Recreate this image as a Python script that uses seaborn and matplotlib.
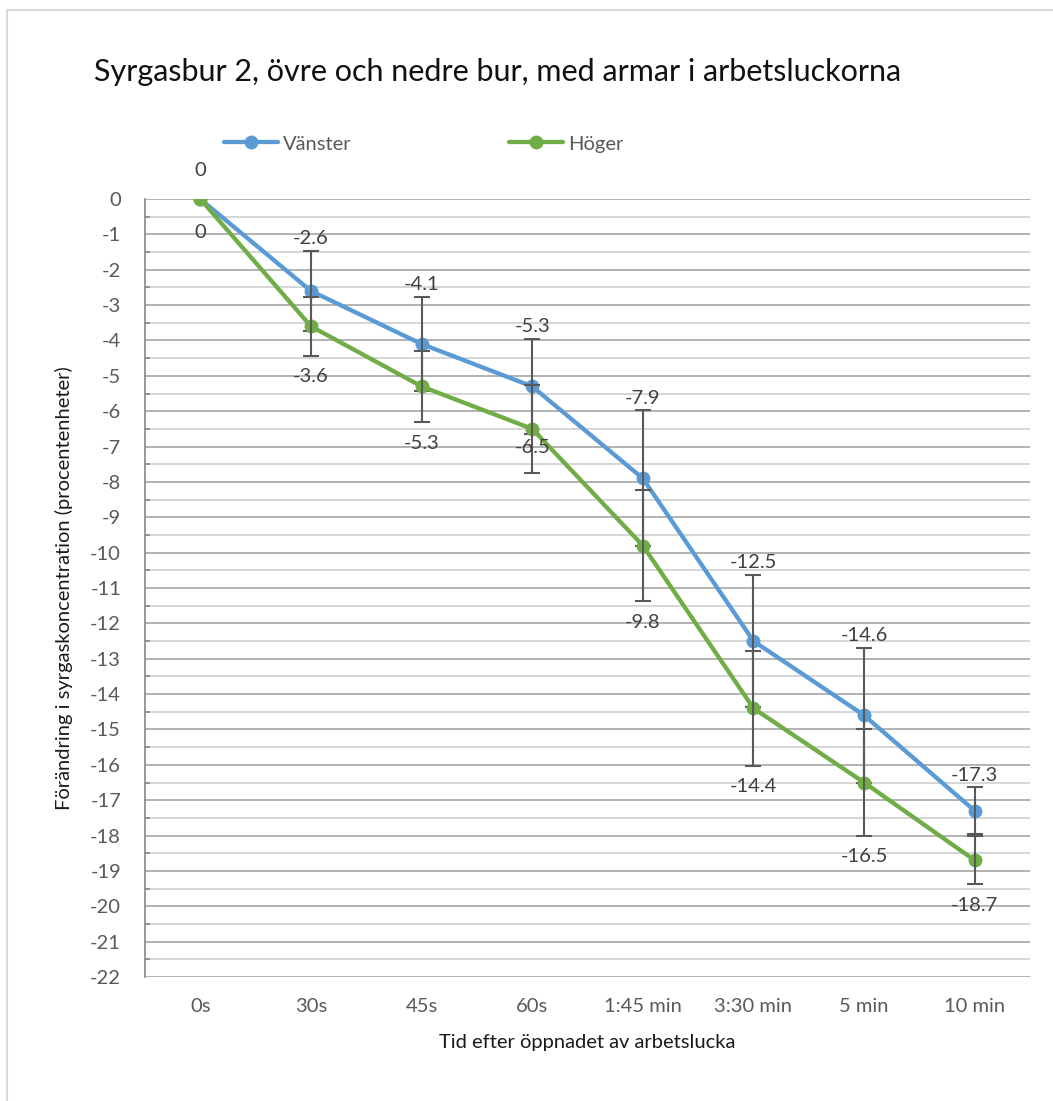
import numpy as np
import pandas as pd
import matplotlib
matplotlib.use("Agg")
import matplotlib.pyplot as plt
import seaborn as sns
from matplotlib.lines import Line2D
from matplotlib.ticker import MultipleLocator, FixedLocator

# Mätdata: förändring i syrgaskoncentration (procentenheter) över tid
time_labels = ["0s", "30s", "45s", "60s", "1:45 min", "3:30 min", "5 min", "10 min"]
vanster = [0, -2.6, -4.1, -5.3, -7.9, -12.5, -14.6, -17.3]
hoger = [0, -3.6, -5.3, -6.5, -9.8, -14.4, -16.5, -18.7]
vanster_err = [0, 1.14, 1.33, 1.35, 1.92, 1.87, 1.91, 0.66]
hoger_err = [0, 0.83, 1.01, 1.25, 1.57, 1.63, 1.51, 0.68]
series_names = ["Vänster", "Höger"]
y_ticks = list(range(0, -23, -1))
y_tick_labels = [str(v) for v in y_ticks]

# Etiketter för Höger placeras under felstapeln, utom där den ligger vid punkten
hoger_label_below_bar = [False, True, True, False, True, True, True, True]

BLUE = "#5B9BD5"
GREEN = "#70AD47"
TEXT_GRAY = "#595959"
LABEL_GRAY = "#404040"

sns.set_theme(style="white")
plt.rcParams["font.family"] = ["Lato", "DejaVu Sans"]
plt.rcParams["axes.unicode_minus"] = False

W, H = 1053, 1101
fig = plt.figure(figsize=(W / 100, H / 100), dpi=100)
ax = fig.add_axes([145 / W, 1 - 977 / H, 885 / W, 778 / H])

n = len(time_labels)
df = pd.DataFrame({
    "pos": list(range(n)) * 2,
    "tid": time_labels * 2,
    "serie": [series_names[0]] * n + [series_names[1]] * n,
    "varde": vanster + hoger,
    "fel": vanster_err + hoger_err,
})

FS = 14.5
MS = 10
LW = 3.1
colors = {series_names[0]: BLUE, series_names[1]: GREEN}

for k, name in enumerate(series_names):
    sub = df[df["serie"] == name]
    sns.lineplot(data=sub, x="pos", y="varde", color=colors[name], marker="o",
                 markersize=MS, markeredgewidth=0, linewidth=LW,
                 errorbar=None, legend=False, ax=ax, zorder=3 + 2 * k)
    mask = sub["fel"].to_numpy() > 0
    ax.errorbar(sub["pos"].to_numpy()[mask], sub["varde"].to_numpy()[mask],
                yerr=sub["fel"].to_numpy()[mask], fmt="none", ecolor=TEXT_GRAY,
                elinewidth=1.5, capsize=6, capthick=1.5, zorder=4 + 2 * k)

# Datavärden: Vänster ovanför felstapeln, Höger under
for i in range(n):
    v, e = vanster[i], vanster_err[i]
    off = 12 if e > 0 else 29
    ax.annotate(f"{v:g}", (i, v + e), xytext=(0, off * 0.72), textcoords="offset points",
                ha="center", va="center", fontsize=FS, color=LABEL_GRAY, zorder=10)
for i in range(n):
    v, e = hoger[i], hoger_err[i]
    if hoger_label_below_bar[i]:
        anchor, off = v - e, 21
    else:
        anchor, off = v, (34 if e == 0 else 19)
    ax.annotate(f"{v:g}", (i, anchor), xytext=(0, -off * 0.72), textcoords="offset points",
                ha="center", va="center", fontsize=FS, color=LABEL_GRAY, zorder=10)

ax.set_xlim(-0.5, n - 0.5)
ax.set_ylim(-22, 0)
ax.set_xticks(range(n))
ax.set_xticklabels(time_labels, fontsize=FS, color=TEXT_GRAY)
ax.yaxis.set_major_locator(FixedLocator(y_ticks))
ax.set_yticklabels(y_tick_labels, fontsize=FS, color=TEXT_GRAY)
ax.yaxis.set_minor_locator(MultipleLocator(0.5))

ax.grid(True, which="major", axis="y", color="#a6a6a6", linewidth=1.2, zorder=0)
ax.grid(True, which="minor", axis="y", color="#d0d0d0", linewidth=1.2, zorder=0)
ax.grid(False, axis="x")
ax.set_axisbelow(True)

for s in ["top", "right", "bottom"]:
    ax.spines[s].set_visible(False)
ax.spines["left"].set_color("#868686")
ax.spines["left"].set_linewidth(1.2)

ax.tick_params(axis="y", which="major", direction="inout", length=9.5, width=1.2,
               color="#868686", pad=12.5)
ax.tick_params(axis="y", which="minor", direction="in", length=3.8, width=1.2,
               color="#868686", left=True)
ax.tick_params(axis="x", which="both", length=0, pad=15)

ax.set_xlabel("Tid efter öppnadet av arbetslucka", fontsize=FS, color="#1a1a1a", labelpad=14)
ax.set_ylabel("Förändring i syrgaskoncentration (procentenheter)", fontsize=FS,
              color="#1a1a1a", labelpad=12)

fig.text(94 / W, 1 - 72 / H, "Syrgasbur 2, övre och nedre bur, med armar i arbetsluckorna",
         ha="left", va="center", fontsize=22, color="#111111")

handles = [Line2D([], [], color=colors[nm], lw=LW, marker="o", markersize=MS,
                  markeredgewidth=0) for nm in series_names]
fig.legend(handles, series_names, loc="center left",
           bbox_to_anchor=(224 / W, 1 - 144 / H), ncol=2, frameon=False,
           fontsize=FS, labelcolor=TEXT_GRAY, handlelength=2.7, handletextpad=0.25,
           columnspacing=7.8, borderpad=0, borderaxespad=0)

# Diagramram
fig.add_artist(Line2D([7 / W, 7 / W], [0, 1 - 10 / H], transform=fig.transFigure,
                      color="#d9d9d9", lw=1.5))
fig.add_artist(Line2D([7 / W, 1], [1 - 10 / H, 1 - 10 / H], transform=fig.transFigure,
                      color="#d9d9d9", lw=1.5))

fig.savefig("out.png", dpi=100, facecolor="white")
